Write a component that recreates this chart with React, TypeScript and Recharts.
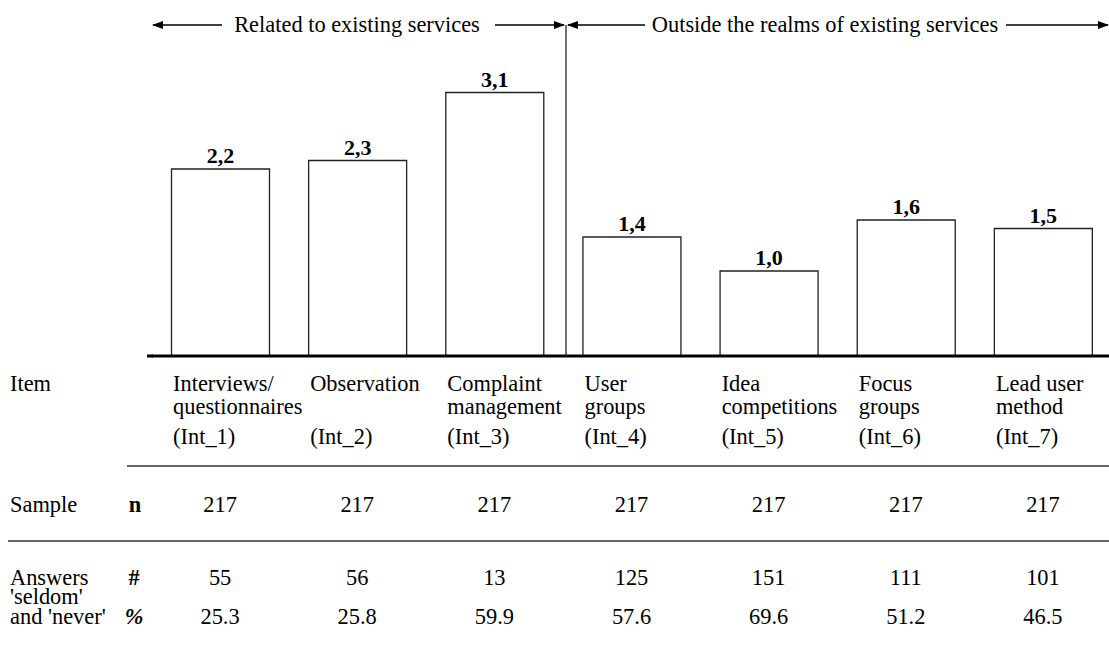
import { Bar, BarChart, LabelList, XAxis, YAxis } from 'recharts';

const codes = ['Int_1', 'Int_2', 'Int_3', 'Int_4', 'Int_5', 'Int_6', 'Int_7'];
const itemNames = [
  ['Interviews/', 'questionnaires'],
  ['Observation'],
  ['Complaint', 'management'],
  ['User', 'groups'],
  ['Idea', 'competitions'],
  ['Focus', 'groups'],
  ['Lead user', 'method'],
];
const scores = [2.2, 2.3, 3.1, 1.4, 1.0, 1.6, 1.5];
const sampleN = [217, 217, 217, 217, 217, 217, 217];
const seldomCount = [55, 56, 13, 125, 151, 111, 101];
const seldomPct = [25.3, 25.8, 59.9, 57.6, 69.6, 51.2, 46.5];

const FONT = '"Liberation Serif", "Times New Roman", serif';
const FS = 22.4;

const data = codes.map((code, i) => ({ code, score: scores[i] }));

// one table column under each bar, placed by the category scale
function ColumnTick(props: any) {
  const { x, payload } = props;
  const i = codes.indexOf(payload.value);
  if (i < 0) return null;
  const left = x - 47;
  return (
    <g fontFamily={FONT} fontSize={FS} fill="#000">
      <text x={left} y={391} textAnchor="start" fill="#000">
        {itemNames[i].map((s, k) => (
          <tspan key={k} x={left} dy={k === 0 ? 0 : 23}>
            {s}
          </tspan>
        ))}
      </text>
      <text x={left} y={444} textAnchor="start" fill="#000">{`(${payload.value})`}</text>
      <text x={x} y={512} textAnchor="middle" fill="#000">{sampleN[i]}</text>
      <text x={x} y={585} textAnchor="middle" fill="#000">{seldomCount[i]}</text>
      <text x={x} y={624} textAnchor="middle" fill="#000">{seldomPct[i].toFixed(1)}</text>
    </g>
  );
}

function Overlay() {
  const txt = { fontFamily: FONT, fontSize: FS, fill: '#000' };
  return (
    <svg
      width={1109}
      height={646}
      style={{ position: 'absolute', left: 0, top: 0, pointerEvents: 'none' }}
    >
      <defs>
        <marker
          id="ah"
          markerUnits="userSpaceOnUse"
          markerWidth={11}
          markerHeight={8}
          refX={10}
          refY={4}
          orient="auto-start-reverse"
        >
          <path d="M0,0 L11,4 L0,8 z" fill="#000" />
        </marker>
      </defs>
      <line x1={153} y1={25} x2={222} y2={25} stroke="#000" strokeWidth={1.3} markerStart="url(#ah)" />
      <text x={357} y={32} textAnchor="middle" {...txt}>Related to existing services</text>
      <line x1={495} y1={25} x2={564} y2={25} stroke="#000" strokeWidth={1.3} markerEnd="url(#ah)" />
      <line x1={568} y1={25} x2={645} y2={25} stroke="#000" strokeWidth={1.3} markerStart="url(#ah)" />
      <text x={825} y={32} textAnchor="middle" {...txt}>Outside the realms of existing services</text>
      <line x1={1006} y1={25} x2={1108} y2={25} stroke="#000" strokeWidth={1.3} markerEnd="url(#ah)" />
      <line x1={566} y1={25} x2={566} y2={356} stroke="#222" strokeWidth={1.3} />
      <line x1={147} y1={356} x2={153} y2={356} stroke="#000" strokeWidth={3} />

      <line x1={127} y1={466} x2={1109} y2={466} stroke="#333" strokeWidth={1.3} />
      <line x1={8} y1={541} x2={1109} y2={541} stroke="#333" strokeWidth={1.3} />

      <text x={10} y={391} {...txt}>Item</text>
      <text x={10} y={512} {...txt}>Sample</text>
      <text x={135} y={512} textAnchor="middle" fontWeight="bold" {...txt}>n</text>
      <text x={10} y={585} {...txt}>
        <tspan x={10} dy={0}>Answers</tspan>
        <tspan x={10} dy={19}>'seldom'</tspan>
        <tspan x={10} dy={20}>and 'never'</tspan>
      </text>
      <text x={134} y={585} textAnchor="middle" fontWeight="bold" {...txt}>#</text>
      <text x={134} y={624} textAnchor="middle" fontWeight="bold" fontStyle="italic" {...txt}>%</text>
    </svg>
  );
}

export default function App() {
  return (
    <div
      style={{
        position: 'fixed',
        left: 0,
        top: 0,
        width: 1109,
        height: 646,
        overflow: 'hidden',
        background: '#fff',
      }}
    >
      <BarChart
        width={1112}
        height={646}
        data={data}
        margin={{ top: 16, right: 0.5, left: 151.5, bottom: 260 }}
      >
        <XAxis
          dataKey="code"
          height={30}
          interval={0}
          tickLine={false}
          axisLine={{ stroke: '#000', strokeWidth: 3 }}
          tick={<ColumnTick />}
        />
        <YAxis hide domain={[0, 4]} />
        <Bar
          dataKey="score"
          barSize={98}
          fill="#fff"
          stroke="#222"
          strokeWidth={1.3}
          isAnimationActive={false}
        >
          <LabelList
            dataKey="score"
            position="top"
            offset={6}
            formatter={(v: any) => Number(v).toFixed(1).replace('.', ',')}
            style={{ fontFamily: FONT, fontSize: 22, fontWeight: 'bold', fill: '#000' }}
          />
        </Bar>
      </BarChart>
      <Overlay />
    </div>
  );
}
